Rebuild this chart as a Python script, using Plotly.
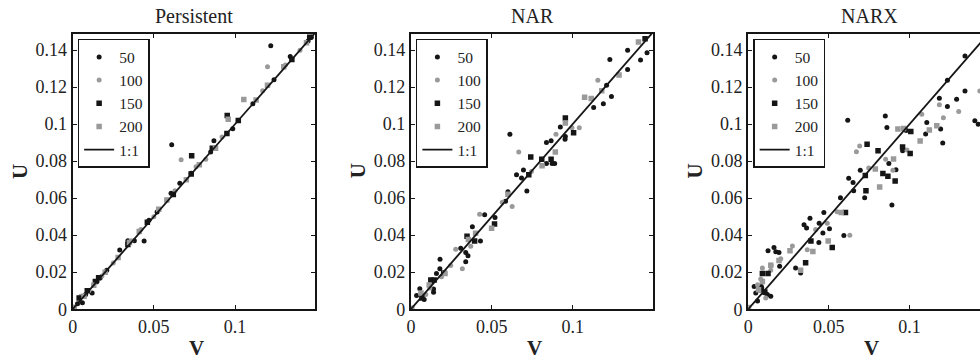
import plotly.graph_objects as go

# ---- data: U vs V for three predictors, four sample sizes each ----
series_names = ["50", "100", "150", "200"]
panel_titles = ["Persistent", "NAR", "NARX"]
x_tick_vals = [0, 0.05, 0.1]
x_tick_text = ["0", "0.05", "0.1"]
y_tick_vals = [0, 0.02, 0.04, 0.06, 0.08, 0.1, 0.12, 0.14]
y_tick_text = ["0", "0.02", "0.04", "0.06", "0.08", "0.1", "0.12", "0.14"]
one_to_one = [0, 0.16]

# Persistent
pers_50_v = [0.003, 0.006, 0.008, 0.012, 0.015, 0.017, 0.021, 0.029, 0.034, 0.038, 0.044, 0.047, 0.052,
             0.061, 0.0606, 0.066, 0.073, 0.085, 0.087, 0.0986, 0.111, 0.122, 0.124, 0.134, 0.145, 0.147]
pers_50_u = [0.003, 0.0035, 0.008, 0.0087, 0.015, 0.017, 0.021, 0.032, 0.037, 0.037, 0.0368, 0.048, 0.0525,
             0.0889, 0.0627, 0.068, 0.0735, 0.085, 0.091, 0.0975, 0.111, 0.1424, 0.124, 0.1365, 0.145, 0.147]
pers_100_v = [0.005, 0.010, 0.018, 0.025, 0.036, 0.042, 0.050, 0.058, 0.063, 0.0668, 0.076, 0.082, 0.092,
              0.102, 0.117, 0.120, 0.131, 0.140]
pers_100_u = [0.007, 0.010, 0.018, 0.025, 0.037, 0.043, 0.050, 0.059, 0.064, 0.0807, 0.077, 0.081, 0.093,
              0.102, 0.118, 0.131, 0.132, 0.140]
pers_150_v = [0.004, 0.009, 0.014, 0.016, 0.034, 0.046, 0.062, 0.073, 0.0733, 0.086, 0.095, 0.0952, 0.102,
              0.135, 0.146]
pers_150_u = [0.006, 0.010, 0.015, 0.017, 0.035, 0.047, 0.062, 0.073, 0.0829, 0.087, 0.095, 0.1047, 0.102,
              0.135, 0.147]
pers_200_v = [0.001, 0.007, 0.013, 0.020, 0.028, 0.035, 0.041, 0.053, 0.058, 0.070, 0.078, 0.088, 0.0958,
              0.1054, 0.113, 0.120, 0.130, 0.144]
pers_200_u = [0.001, 0.007, 0.013, 0.020, 0.028, 0.036, 0.042, 0.054, 0.059, 0.070, 0.078, 0.087, 0.1026,
              0.1133, 0.113, 0.121, 0.131, 0.144]

# NAR
nar_50_v = [0.0612, 0.134, 0.123, 0.142, 0.146, 0.134, 0.119, 0.121, 0.124, 0.113, 0.0955, 0.0924, 0.0953,
            0.0838, 0.0867, 0.0873, 0.0889, 0.0838, 0.0717, 0.0653, 0.0684, 0.0696, 0.060, 0.0585, 0.0456,
            0.052, 0.043, 0.038, 0.0339, 0.0339, 0.0308, 0.0353, 0.018, 0.0179, 0.0158, 0.0127, 0.014,
            0.014, 0.0055, 0.0082, 0.0035]
nar_50_u = [0.0945, 0.140, 0.135, 0.1346, 0.1386, 0.1295, 0.111, 0.121, 0.115, 0.109, 0.0933, 0.0984, 0.0919,
            0.0901, 0.0910, 0.0788, 0.0788, 0.0788, 0.0639, 0.0726, 0.0709, 0.0752, 0.0635, 0.0583, 0.051,
            0.0495, 0.0368, 0.0446, 0.0306, 0.0257, 0.0329, 0.0289, 0.027, 0.0219, 0.0193, 0.0149, 0.0109,
            0.0091, 0.011, 0.0053, 0.0074]
nar_100_v = [0.0667, 0.0626, 0.1156, 0.1041, 0.0897, 0.0425, 0.0277, 0.0318, 0.0246, 0.0189, 0.0092, 0.0117,
             0.037, 0.0565, 0.0745, 0.0996]
nar_100_u = [0.0849, 0.0555, 0.1237, 0.098, 0.0945, 0.0513, 0.0324, 0.0219, 0.0236, 0.0175, 0.0079, 0.0114,
             0.034, 0.0578, 0.0744, 0.098]
nar_150_v = [0.0741, 0.0955, 0.0517, 0.0394, 0.0347, 0.0203, 0.0123, 0.0144, 0.0809, 0.0867, 0.0729, 0.1006,
             0.0068, 0.1448]
nar_150_u = [0.0823, 0.1033, 0.046, 0.0368, 0.0394, 0.0196, 0.0158, 0.0158, 0.081, 0.081, 0.0726, 0.0954,
             0.0061, 0.1461]
nar_200_v = [0.0811, 0.0893, 0.1074, 0.1115, 0.118, 0.1287, 0.0499, 0.040, 0.0355, 0.0211, 0.0113, 0.0062,
             0.0006, 0.0955, 0.060, 0.1407]
nar_200_u = [0.0775, 0.0849, 0.1146, 0.1138, 0.118, 0.1265, 0.0437, 0.0411, 0.0376, 0.0193, 0.0131, 0.0088,
             0.0005, 0.1006, 0.0621, 0.1444]

# NARX
narx_50_v = [0.0617, 0.085, 0.086, 0.1344, 0.1235, 0.1185, 0.1235, 0.1292, 0.1344, 0.1405, 0.1426, 0.1107,
             0.110, 0.1193, 0.1206, 0.098, 0.0957, 0.0891, 0.0872, 0.0916, 0.0695, 0.0623, 0.065, 0.0654,
             0.0722, 0.0572, 0.0593, 0.0504, 0.0463, 0.0469, 0.044, 0.0438, 0.0383, 0.0346, 0.0362, 0.0294,
             0.0325, 0.016, 0.0123, 0.0171, 0.0191, 0.0195, 0.014, 0.014, 0.0047, 0.0058, 0.0082, 0.0105,
             0.0119, 0.0037]
narx_50_u = [0.1021, 0.1044, 0.0982, 0.1368, 0.1237, 0.114, 0.1096, 0.1135, 0.1179, 0.1018, 0.100, 0.1009,
             0.0947, 0.0974, 0.0898, 0.0965, 0.0856, 0.0563, 0.0788, 0.0754, 0.0751, 0.0707, 0.0684, 0.064,
             0.0602, 0.0602, 0.0398, 0.0435, 0.0412, 0.0523, 0.0465, 0.036, 0.0491, 0.0456, 0.0439, 0.0223,
             0.0196, 0.0333, 0.0316, 0.031, 0.0307, 0.0232, 0.0237, 0.007, 0.0088, 0.0044, 0.0123, 0.0088,
             0.0079, 0.0123]
narx_100_v = [0.0671, 0.0691, 0.063, 0.1076, 0.1185, 0.121, 0.1305, 0.1436, 0.0984, 0.0897, 0.0852, 0.049,
              0.0418, 0.0366, 0.0274, 0.0202, 0.014, 0.0088, 0.0078, 0.0109, 0.0058, 0.0551, 0.0747]
narx_100_u = [0.0851, 0.0882, 0.040, 0.1053, 0.1105, 0.1035, 0.1068, 0.1179, 0.086, 0.0751, 0.081, 0.0465,
              0.043, 0.0321, 0.0342, 0.0272, 0.021, 0.0223, 0.0163, 0.0061, 0.0132, 0.0526, 0.0763]
narx_150_v = [0.0737, 0.0805, 0.0957, 0.1008, 0.1004, 0.0835, 0.0866, 0.0911, 0.073, 0.0603, 0.0521, 0.0356,
              0.0389, 0.0123, 0.0088, 0.0082, 0.0103, 0.0726]
narx_150_u = [0.0891, 0.0856, 0.0877, 0.096, 0.0842, 0.0733, 0.0719, 0.0693, 0.064, 0.0523, 0.0333, 0.0251,
              0.0368, 0.0193, 0.0193, 0.0105, 0.0093, 0.0723]
narx_200_v = [0.0815, 0.1066, 0.1123, 0.1169, 0.0928, 0.0963, 0.0901, 0.0788, 0.0576, 0.0496, 0.0401, 0.0259,
              0.0191, 0.014, 0.0088, 0.0064, 0.0002, 0.0325]
narx_200_u = [0.0661, 0.0909, 0.0968, 0.0991, 0.0974, 0.0977, 0.0812, 0.0758, 0.0523, 0.0368, 0.0312, 0.0316,
              0.0263, 0.0237, 0.0149, 0.0105, 0.0009, 0.0211]

panels = [
    [(pers_50_v, pers_50_u), (pers_100_v, pers_100_u), (pers_150_v, pers_150_u), (pers_200_v, pers_200_u)],
    [(nar_50_v, nar_50_u), (nar_100_v, nar_100_u), (nar_150_v, nar_150_u), (nar_200_v, nar_200_u)],
    [(narx_50_v, narx_50_u), (narx_100_v, narx_100_u), (narx_150_v, narx_150_u), (narx_200_v, narx_200_u)],
]

# ---- styling ----
W, H = 980, 361
FONT = "Liberation Serif"
TEXT = "#222222"
BLACK = "#151515"
GRAY = "#9a9a9a"
marker_styles = [
    dict(symbol="circle", color=BLACK, size=5),
    dict(symbol="circle", color=GRAY, size=5),
    dict(symbol="square", color=BLACK, size=5.5),
    dict(symbol="square", color=GRAY, size=5.5),
]

# axes boxes in pixels: (left, right)
x_px = [(68, 312), (408, 651), (747, 980)]
top_px, bottom_px = 35, 318
x_ranges = [[0, 0.1495], [0, 0.1495], [0, 0.1437]]
y_range = [0, 0.1487]

fig = go.Figure()
legend_names = ["legend", "legend2", "legend3"]

for p, series in enumerate(panels):
    ax = "" if p == 0 else str(p + 1)
    for s, (vv, uu) in enumerate(series):
        fig.add_trace(go.Scatter(
            x=vv, y=uu, mode="markers", name=series_names[s],
            marker=dict(line=dict(width=0), **marker_styles[s]),
            xaxis="x" + ax, yaxis="y" + ax, legend=legend_names[p],
            cliponaxis=True,
        ))
    fig.add_trace(go.Scatter(
        x=one_to_one, y=one_to_one, mode="lines", name="1:1",
        line=dict(color=BLACK, width=1.8),
        xaxis="x" + ax, yaxis="y" + ax, legend=legend_names[p],
    ))

axis_common = dict(
    showgrid=False, zeroline=False, showline=True, linecolor=BLACK, linewidth=2.2,
    ticks="inside", ticklen=4, tickwidth=1.2, tickcolor=BLACK,
    tickfont=dict(family=FONT, size=18, color=TEXT),
)

layout = dict(
    width=W, height=H, margin=dict(l=0, r=0, t=0, b=0),
    paper_bgcolor="white", plot_bgcolor="white",
    font=dict(family=FONT, color=TEXT),
    showlegend=True,
)

y_dom = [1 - bottom_px / H, 1 - top_px / H]
for p in range(3):
    ax = "" if p == 0 else str(p + 1)
    l, r = x_px[p]
    layout["xaxis" + ax] = dict(
        axis_common, domain=[l / W, r / W], range=x_ranges[p],
        tickvals=x_tick_vals, ticktext=x_tick_text, mirror="allticks",
        anchor="y" + ax,
    )
    layout["yaxis" + ax] = dict(
        axis_common, domain=y_dom, range=y_range,
        tickvals=y_tick_vals, ticktext=y_tick_text,
        mirror=("allticks" if p < 2 else False),
        anchor="x" + ax,
    )
    layout[legend_names[p]] = dict(
        x=(l + 5) / W, y=1 - (top_px + 5) / H, xanchor="left", yanchor="top",
        bgcolor="white", bordercolor=BLACK, borderwidth=1.5,
        font=dict(family=FONT, size=15.5, color=TEXT),
        itemwidth=30, tracegroupgap=0,
    )

fig.update_layout(**layout)

# panel titles and axis labels
annotations = []
for p in range(3):
    l, r = x_px[p]
    cx = (l + l + 244) / 2
    annotations.append(dict(text=panel_titles[p], x=cx / W, y=1 - 16 / H, xref="paper", yref="paper",
                            xanchor="center", yanchor="middle", showarrow=False,
                            font=dict(family=FONT, size=20, color=TEXT)))
    annotations.append(dict(text="<b>V</b>", x=(cx + 2) / W, y=1 - 358 / H, xref="paper", yref="paper",
                            xanchor="center", yanchor="middle", showarrow=False,
                            font=dict(family=FONT, size=21, color=TEXT)))
    annotations.append(dict(text="<b>U</b>", x=(l - 53) / W, y=1 - 176 / H, xref="paper", yref="paper",
                            xanchor="center", yanchor="middle", showarrow=False, textangle=-90,
                            font=dict(family=FONT, size=21, color=TEXT)))
fig.update_layout(annotations=annotations)

fig.write_html("out.html")
